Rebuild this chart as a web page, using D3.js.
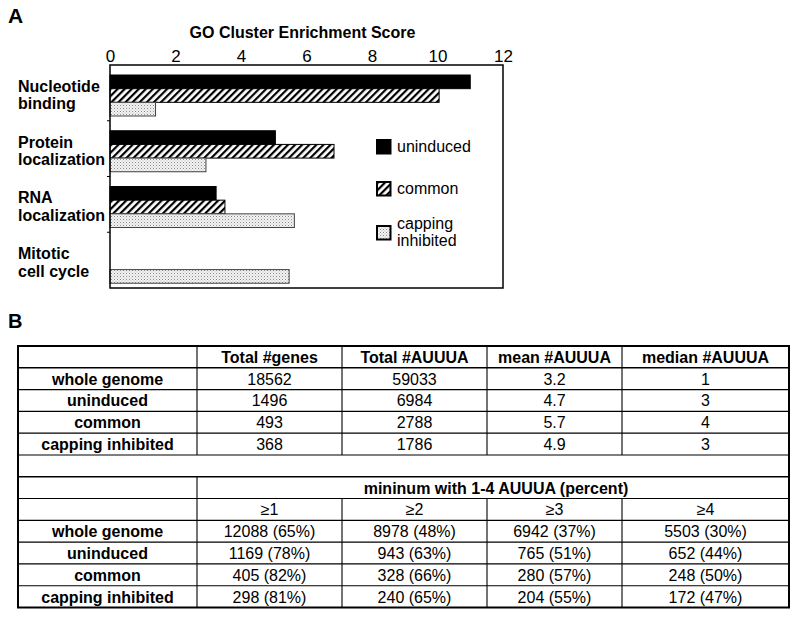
<!DOCTYPE html>
<html>
<head>
<meta charset="utf-8">
<script src="https://cdn.jsdelivr.net/npm/d3@7"></script>
<style>
  body { margin: 0; background: #fff; }
  text { font-family: "Liberation Sans", Arial, sans-serif; fill: #000; }
</style>
</head>
<body>
<div class="chart"></div>
<script>
// panel A data
var categories = ["Nucleotide\nbinding", "Protein\nlocalization", "RNA\nlocalization", "Mitotic\ncell cycle"];
var seriesNames = ["uninduced", "common", "capping\ninhibited"];
var uninduced = [11.0, 5.05, 3.24, 0];
var common = [10.05, 6.84, 3.51, 0];
var cappingInhibited = [1.39, 2.93, 5.63, 5.47];
var xTicks = [0, 2, 4, 6, 8, 10, 12];

// panel B data
var headerCols = ["Total #genes", "Total #AUUUA", "mean #AUUUA", "median #AUUUA"];
var rowLabels = ["whole genome", "uninduced", "common", "capping inhibited"];
var totalGenes = ["18562", "1496", "493", "368"];
var totalAUUUA = ["59033", "6984", "2788", "1786"];
var meanAUUUA = ["3.2", "4.7", "5.7", "4.9"];
var medianAUUUA = ["1", "3", "4", "3"];
var minHeader = "mininum with 1-4 AUUUA (percent)";
var thresholds = ["≥1", "≥2", "≥3", "≥4"];
var atLeast1 = ["12088 (65%)", "1169 (78%)", "405 (82%)", "298 (81%)"];
var atLeast2 = ["8978 (48%)", "943 (63%)", "328 (66%)", "240 (65%)"];
var atLeast3 = ["6942 (37%)", "765 (51%)", "280 (57%)", "204 (55%)"];
var atLeast4 = ["5503 (30%)", "652 (44%)", "248 (50%)", "172 (47%)"];

var svgWidth = 800;
var svgHeight = 618;

var svg = d3.select(".chart")
  .append("svg")
  .attr("width", svgWidth)
  .attr("height", svgHeight);

var defs = svg.append("defs");

var hatch = defs.append("pattern")
  .attr("id", "hatch")
  .attr("patternUnits", "userSpaceOnUse")
  .attr("width", 5)
  .attr("height", 5)
  .attr("patternTransform", "rotate(45)");
hatch.append("rect").attr("width", 5).attr("height", 5).attr("fill", "#fff");
hatch.append("rect").attr("width", 2.2).attr("height", 5).attr("fill", "#000");

var dots = defs.append("pattern")
  .attr("id", "dots")
  .attr("patternUnits", "userSpaceOnUse")
  .attr("width", 3)
  .attr("height", 3);
dots.append("rect").attr("width", 3).attr("height", 3).attr("fill", "#f4f4f4");
dots.append("rect").attr("x", 0).attr("y", 0).attr("width", 1).attr("height", 1).attr("fill", "#8a8a8a");
dots.append("rect").attr("x", 1.5).attr("y", 1.5).attr("width", 1).attr("height", 1).attr("fill", "#b0b0b0");

var fills = ["#000", "url(#hatch)", "url(#dots)"];
var strokes = ["#000", "#000", "#444"];

// ---------- panel A ----------
var plot = { left: 110, right: 503, top: 65, bottom: 288 };

svg.append("text")
  .attr("x", 8).attr("y", 23)
  .style("font-size", "21px").style("font-weight", "bold")
  .text("A");

var x = d3.scaleLinear().domain([0, 12]).range([plot.left, plot.right]);
var y = d3.scaleBand().domain(categories).range([plot.top, plot.bottom]);
var yInner = d3.scaleBand().domain(seriesNames).range([10, 51]);

var seriesValues = [uninduced, common, cappingInhibited];

var barData = [];
categories.forEach(function(c, i) {
  seriesNames.forEach(function(s, j) {
    barData.push({ cat: c, series: s, idx: j, value: seriesValues[j][i] });
  });
});

var chartGroup = svg.append("g");

chartGroup.selectAll("rect.bar")
  .data(barData.filter(d => d.value > 0))
  .enter()
  .append("rect")
  .attr("class", "bar")
  .attr("x", x(0))
  .attr("y", d => y(d.cat) + yInner(d.series))
  .attr("width", d => x(d.value) - x(0))
  .attr("height", yInner.bandwidth())
  .attr("fill", d => fills[d.idx])
  .attr("stroke", d => strokes[d.idx])
  .attr("stroke-width", 1);

// frame
chartGroup.append("rect")
  .attr("x", plot.left).attr("y", plot.top)
  .attr("width", plot.right - plot.left)
  .attr("height", plot.bottom - plot.top)
  .attr("fill", "none")
  .attr("stroke", "#000")
  .attr("stroke-width", 1.5);

var topAxis = d3.axisTop(x).tickValues(xTicks).tickSize(0).tickPadding(3).tickFormat(d3.format("d"));
var gx = chartGroup.append("g")
  .attr("transform", `translate(0, ${plot.top})`)
  .call(topAxis);
gx.select(".domain").remove();
gx.selectAll("text")
  .style("font-family", "'Liberation Sans', Arial, sans-serif")
  .style("font-size", "17px")
  .attr("fill", "#000");

// left ticks at group boundaries
chartGroup.selectAll("line.ytick")
  .data(categories.slice(1))
  .enter()
  .append("line")
  .attr("class", "ytick")
  .attr("x1", plot.left - 3)
  .attr("x2", plot.left)
  .attr("y1", d => y(d))
  .attr("y2", d => y(d))
  .attr("stroke", "#000")
  .attr("stroke-width", 1);

svg.append("text")
  .attr("x", (plot.left + plot.right) / 2 - 4)
  .attr("y", 38)
  .attr("text-anchor", "middle")
  .style("font-size", "16px").style("font-weight", "bold")
  .text("GO Cluster Enrichment Score");

// category labels
var catLabels = chartGroup.selectAll("text.cat")
  .data(categories)
  .enter()
  .append("text")
  .attr("class", "cat")
  .attr("x", 18)
  .attr("y", d => y(d) + y.bandwidth() / 2 - 1)
  .style("font-size", "16px").style("font-weight", "bold");
catLabels.selectAll("tspan")
  .data(d => d.split("\n"))
  .enter()
  .append("tspan")
  .attr("x", 18)
  .attr("dy", (d, i) => i === 0 ? 0 : 17.5)
  .text(d => d);

// legend
var legendY = [140, 182, 226];
var legend = chartGroup.selectAll("g.legend")
  .data(seriesNames)
  .enter()
  .append("g")
  .attr("class", "legend")
  .attr("transform", (d, i) => `translate(377, ${legendY[i]})`);

legend.append("rect")
  .attr("width", 13.5).attr("height", 13.5)
  .attr("fill", (d, i) => fills[i])
  .attr("stroke", "#000")
  .attr("stroke-width", 2);

legend.append("text")
  .attr("x", 20)
  .attr("y", (d, i) => i === 2 ? 3 : 12)
  .style("font-size", "16px")
  .selectAll("tspan")
  .data(d => d.split("\n"))
  .enter()
  .append("tspan")
  .attr("x", 20)
  .attr("dy", (d, i) => i === 0 ? 0 : 17)
  .text(d => d);

// ---------- panel B ----------
svg.append("text")
  .attr("x", 8).attr("y", 328)
  .style("font-size", "20px").style("font-weight", "bold")
  .text("B");

var colEdges = [18, 197, 342, 487, 622, 789];
var rows = d3.scaleBand().domain(d3.range(12)).range([346, 607.5]);
var rowH = rows.bandwidth();
var table = svg.append("g");

function colCenter(c) { return (colEdges[c] + colEdges[c + 1]) / 2; }

function cellText(row, col, txt, bold, cx) {
  table.append("text")
    .attr("x", cx !== undefined ? cx : colCenter(col))
    .attr("y", rows(row) + rowH / 2 + 6)
    .attr("text-anchor", "middle")
    .style("font-size", "16px")
    .style("font-weight", bold ? "bold" : "normal")
    .text(txt);
}

// horizontal lines
d3.range(1, 12).forEach(function(r) {
  table.append("line")
    .attr("x1", colEdges[0]).attr("x2", colEdges[5])
    .attr("y1", rows(r)).attr("y2", rows(r))
    .attr("stroke", "#000")
    .attr("stroke-width", (r === 1 || r === 6) ? 1.6 : 1.1);
});

// vertical lines (first block rows 0-4, second block rows 6-11)
function vline(c, r0, r1) {
  table.append("line")
    .attr("x1", colEdges[c]).attr("x2", colEdges[c])
    .attr("y1", rows(r0)).attr("y2", rows(r1) + rowH)
    .attr("stroke", "#000").attr("stroke-width", 1.1);
}
[1, 2, 3, 4].forEach(c => vline(c, 0, 4));
vline(1, 6, 11);
[2, 3, 4].forEach(c => vline(c, 7, 11));

table.append("rect")
  .attr("x", colEdges[0]).attr("y", rows(0))
  .attr("width", colEdges[5] - colEdges[0])
  .attr("height", rows(11) + rowH - rows(0))
  .attr("fill", "none")
  .attr("stroke", "#000")
  .attr("stroke-width", 2);

var block1 = [totalGenes, totalAUUUA, meanAUUUA, medianAUUUA];
var block2 = [atLeast1, atLeast2, atLeast3, atLeast4];

headerCols.forEach((h, i) => cellText(0, i + 1, h, true));
rowLabels.forEach(function(lab, r) {
  cellText(r + 1, 0, lab, true);
  block1.forEach((vals, c) => cellText(r + 1, c + 1, vals[r], false));
});

cellText(6, 1, minHeader, true, (colEdges[1] + colEdges[5]) / 2 + 3);
thresholds.forEach((t, i) => cellText(7, i + 1, t, false));
rowLabels.forEach(function(lab, r) {
  cellText(r + 8, 0, lab, true);
  block2.forEach((vals, c) => cellText(r + 8, c + 1, vals[r], false));
});
</script>
</body>
</html>
